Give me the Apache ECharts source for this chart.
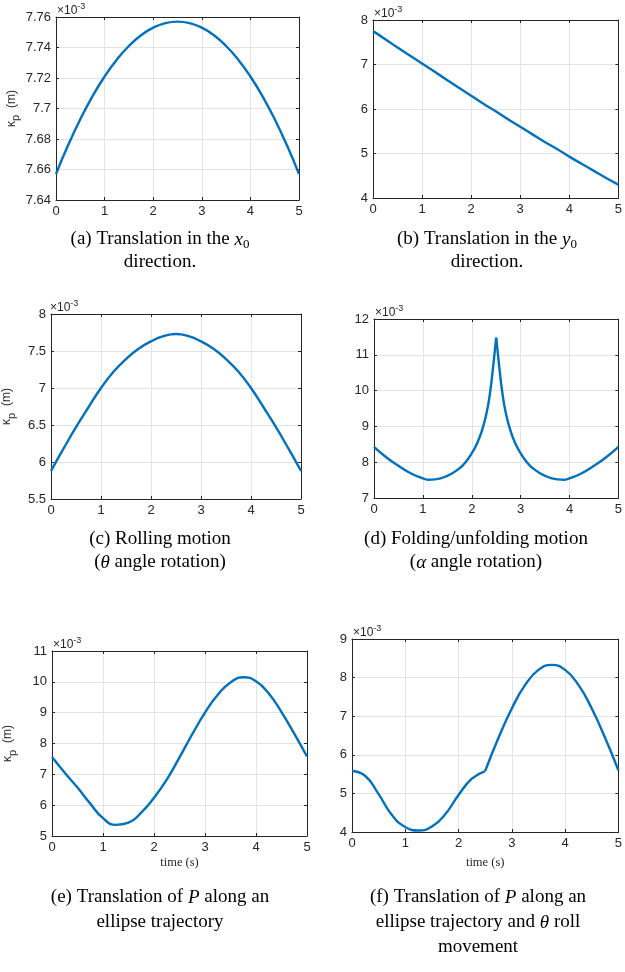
<!DOCTYPE html>
<html>
<head>
<meta charset="utf-8">
<script src="https://cdn.jsdelivr.net/npm/echarts@6/dist/echarts.min.js"></script>
<style>
html, body { margin: 0; padding: 0; background: #fff; }
#main { width: 625px; height: 972px; }
</style>
</head>
<body>
<div id="main"></div>
<script>
// time samples (s)
var tQuarter = [0, 0.25, 0.5, 0.75, 1, 1.25, 1.5, 1.75, 2, 2.25, 2.5, 2.75, 3, 3.25, 3.5, 3.75, 4, 4.25, 4.5, 4.75, 5];
var tFold = [0, 0.25, 0.5, 0.75, 1, 1.1, 1.25, 1.5, 1.75, 1.9, 2, 2.1, 2.2, 2.3, 2.38, 2.44, 2.5,
             2.56, 2.62, 2.7, 2.8, 2.9, 3, 3.1, 3.25, 3.5, 3.75, 3.9, 4, 4.25, 4.5, 4.75, 5];
var xTicks = [0, 1, 2, 3, 4, 5];

// kappa_p values, x10^-3 m
var kappaX0 = [7.657, 7.676, 7.693, 7.708, 7.721, 7.732, 7.741, 7.748, 7.753, 7.756, 7.757,
               7.756, 7.753, 7.748, 7.741, 7.732, 7.721, 7.708, 7.693, 7.676, 7.657];
var kappaY0 = [7.75, 7.57, 7.38, 7.20, 7.02, 6.84, 6.66, 6.48, 6.30, 6.12, 5.95,
               5.77, 5.60, 5.43, 5.26, 5.10, 4.93, 4.77, 4.61, 4.45, 4.30];
var kappaRoll = [5.88, 6.18, 6.47, 6.74, 7.00, 7.22, 7.39, 7.53, 7.63, 7.70, 7.73,
                 7.70, 7.63, 7.53, 7.39, 7.22, 7.00, 6.74, 6.47, 6.18, 5.88];
var kappaFold = [8.43, 8.14, 7.90, 7.69, 7.55, 7.51, 7.52, 7.62, 7.83, 8.05, 8.25, 8.50, 8.85, 9.35, 10.0, 10.7, 11.48,
                 10.7, 10.0, 9.35, 8.85, 8.50, 8.25, 8.05, 7.83, 7.62, 7.52, 7.51, 7.55, 7.69, 7.90, 8.14, 8.43];
var kappaEllipse = [7.56, 7.05, 6.57, 6.05, 5.58, 5.36, 5.43, 5.76, 6.24, 6.83, 7.55,
                    8.30, 9.00, 9.58, 9.98, 10.15, 10.02, 9.62, 9.02, 8.32, 7.58];
var kappaEllipseRoll = [5.58, 5.45, 4.98, 4.44, 4.13, 4.04, 4.14, 4.46, 4.96, 5.38, 5.58,
                        6.44, 7.20, 7.81, 8.20, 8.33, 8.20, 7.81, 7.20, 6.44, 5.60];

var captions = [
	'(a) Translation in the {i|x}{s|0}\ndirection.',
	'(b) Translation in the {i|y}{s|0}\ndirection.',
	'(c) Rolling motion\n({i|θ} angle rotation)',
	'(d) Folding/unfolding motion\n({i|α} angle rotation)',
	'(e) Translation of {i|P} along an\nellipse trajectory',
	'(f) Translation of {i|P} along an\nellipse trajectory and {i|θ} roll\nmovement'
];

var panels = [
	{box: [56, 17, 243, 183], yMin: 7.64, yMax: 7.76, yStep: 0.02, t: tQuarter, k: kappaX0, split: false, yName: true, xGap: 0, cap: [160, 228, 23]},
	{box: [373, 20, 248, 178], yMin: 4, yMax: 8, yStep: 1, t: tQuarter, k: kappaY0, split: false, yName: false, xGap: 0, cap: [487, 228, 23]},
	{box: [49, 314, 252, 185], yMin: 5.5, yMax: 8, yStep: 0.5, t: tQuarter, k: kappaRoll, split: false, yName: true, xGap: 0, cap: [160, 528, 23]},
	{box: [374, 319, 247, 179], yMin: 7, yMax: 12, yStep: 1, t: tFold, k: kappaFold, split: true, yName: false, xGap: 0, cap: [476, 528, 23]},
	{box: [52, 651, 255, 185], yMin: 5, yMax: 11, yStep: 1, t: tQuarter, k: kappaEllipse, split: false, yName: true, xGap: 20, cap: [160, 885, 25]},
	{box: [352, 639, 270, 193], yMin: 4, yMax: 9, yStep: 1, t: tQuarter, k: kappaEllipseRoll, split: true, yName: false, xGap: 24, cap: [478, 885, 25]}
];

var axisColor = '#262626';
var gridColor = '#e3e3e3';
var lineColor = '#0072BD';
var sansFont = 'Liberation Sans';
var serifFont = 'Liberation Serif';

function pairs(t, k, from, to) {
	var out = [];
	for (var i = 0; i < t.length; i++) {
		if (t[i] >= from && t[i] <= to) out.push([t[i], k[i]]);
	}
	return out;
}

var grids = [], xAxes = [], yAxes = [], series = [], titles = [];

panels.forEach(function(p, i) {
	grids.push({left: p.box[0], top: p.box[1], width: p.box[2], height: p.box[3], containLabel: false});

	var tickStyle = {inside: true, length: 3, lineStyle: {color: axisColor}};
	var lineStyle = {show: true, onZero: false, lineStyle: {color: axisColor, width: 1}};

	xAxes.push({
		type: 'value', gridIndex: i, position: 'bottom', min: xTicks[0], max: xTicks[xTicks.length - 1], interval: 1,
		axisLine: lineStyle, axisTick: tickStyle,
		axisLabel: {margin: 5, fontSize: 13, color: axisColor, fontFamily: sansFont},
		splitLine: {show: true, lineStyle: {color: gridColor}},
		name: p.xGap ? 'time (s)' : '', nameLocation: 'middle', nameGap: p.xGap,
		nameTextStyle: {fontFamily: serifFont, fontSize: 12.5, color: axisColor}
	});
	xAxes.push({
		type: 'value', gridIndex: i, position: 'top', min: xTicks[0], max: xTicks[xTicks.length - 1], interval: 1,
		axisLine: lineStyle, axisTick: tickStyle, axisLabel: {show: false}, splitLine: {show: false}
	});

	yAxes.push({
		type: 'value', gridIndex: i, position: 'left', min: p.yMin, max: p.yMax, interval: p.yStep,
		axisLine: lineStyle, axisTick: tickStyle,
		axisLabel: {margin: 5, fontSize: 13, color: axisColor, fontFamily: sansFont},
		splitLine: {show: true, lineStyle: {color: gridColor}},
		name: p.yName ? '{k|κ}{p|p}{n|  (m)}' : '', nameLocation: 'middle', nameGap: 34, nameRotate: 90,
		nameTextStyle: {
			color: axisColor,
			rich: {
				k: {fontFamily: sansFont, fontSize: 12, color: axisColor, lineHeight: 16, verticalAlign: 'top'},
				p: {fontFamily: sansFont, fontSize: 11, color: axisColor, lineHeight: 10, verticalAlign: 'bottom'},
				n: {fontFamily: sansFont, fontSize: 12, color: axisColor, lineHeight: 16, verticalAlign: 'top'}
			}
		}
	});
	yAxes.push({
		type: 'value', gridIndex: i, position: 'right', min: p.yMin, max: p.yMax, interval: p.yStep,
		axisLine: lineStyle, axisTick: tickStyle, axisLabel: {show: false}, splitLine: {show: false}
	});

	var pieces = p.split ? [[0, 2.5], [2.5, 5]] : [[0, 5]];
	pieces.forEach(function(r) {
		series.push({
			type: 'line', xAxisIndex: 2 * i, yAxisIndex: 2 * i,
			data: pairs(p.t, p.k, r[0], r[1]),
			smooth: true, showSymbol: false, silent: true,
			lineStyle: {color: lineColor, width: 2.4}
		});
	});

	// exponent label
	titles.push({
		text: '{a|×10}{b|-3}', left: p.box[0] + 1, top: p.box[1] - 15, padding: 0,
		textStyle: {
			fontWeight: 'normal',
			rich: {
				a: {fontFamily: sansFont, fontSize: 12, fontWeight: 'normal', color: axisColor, lineHeight: 15, verticalAlign: 'bottom'},
				b: {fontFamily: sansFont, fontSize: 9, fontWeight: 'normal', color: axisColor, lineHeight: 8, verticalAlign: 'top'}
			}
		}
	});

	// caption
	titles.push({
		text: captions[i], left: p.cap[0], top: p.cap[1], textAlign: 'center', padding: 0,
		textStyle: {
			fontFamily: serifFont, fontSize: 19, fontWeight: 'normal', color: '#000', lineHeight: p.cap[2],
			rich: {
				i: {fontFamily: serifFont, fontSize: 19, fontWeight: 'normal', fontStyle: 'italic', color: '#000', lineHeight: p.cap[2]},
				s: {fontFamily: serifFont, fontSize: 13, fontWeight: 'normal', color: '#000', lineHeight: 10, verticalAlign: 'bottom'}
			}
		}
	});
});

var chart = echarts.init(document.getElementById('main'));
chart.setOption({
	animation: false,
	backgroundColor: '#fff',
	title: titles,
	grid: grids,
	xAxis: xAxes,
	yAxis: yAxes,
	series: series
});
</script>
</body>
</html>
